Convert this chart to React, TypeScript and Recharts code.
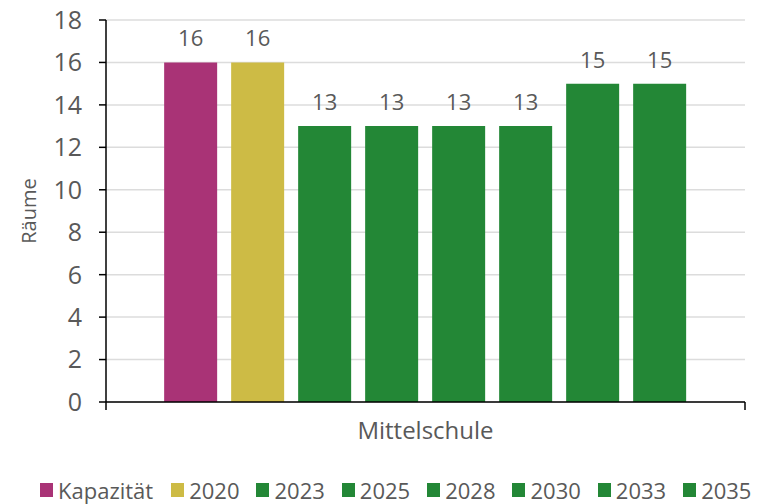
import React from "react";
import { Bar, BarChart, CartesianGrid, LabelList, ReferenceLine, XAxis, YAxis } from "recharts";

const categories = ["Mittelschule"];
const seriesNames = ["Kapazität", "2020", "2023", "2025", "2028", "2030", "2033", "2035"];
const seriesValues = [16, 16, 13, 13, 13, 13, 15, 15];
const seriesColors = ["#A93376", "#CDBB45", "#238736", "#238736", "#238736", "#238736", "#238736", "#238736"];
const yTicks = [0, 2, 4, 6, 8, 10, 12, 14, 16, 18];

const FONT = "'Open Sans', 'Noto Sans', sans-serif";
const TEXT = "#595959";

const data = categories.map((name) => {
  const row: Record<string, string | number> = { name };
  seriesNames.forEach((s, i) => {
    row[s] = seriesValues[i];
  });
  return row;
});

export default function App() {
  return (
    <div style={{ position: "absolute", left: 0, top: 0, width: 764, height: 504, background: "#fff", fontFamily: FONT }}>
      <BarChart
        width={764}
        height={504}
        data={data}
        margin={{ top: 20, right: 19, left: 0, bottom: 52 }}
        barCategoryGap="9.1%"
        barGap={14}
      >
        <CartesianGrid vertical={false} stroke="#dcdcdc" strokeWidth={1.5} />
        <XAxis
          dataKey="name"
          height={50}
          axisLine={{ stroke: "#000", strokeWidth: 1.5 }}
          tickLine={false}
          tickSize={8}
          tickMargin={12}
          tick={{ fill: TEXT, fontSize: 24, fontFamily: FONT }}
        />
        <YAxis
          width={106}
          domain={[0, 18]}
          ticks={yTicks}
          interval={0}
          tick={{ fill: TEXT, fontSize: 25, fontFamily: FONT }}
          axisLine={{ stroke: "#000", strokeWidth: 1.5 }}
          tickLine={{ stroke: "#000", strokeWidth: 1.5 }}
          tickSize={7}
          tickMargin={17}
          label={{
            value: "Räume",
            angle: -90,
            position: "insideLeft",
            offset: 29,
            fill: TEXT,
            fontSize: 20,
            fontFamily: FONT,
            style: { textAnchor: "middle" },
          }}
        />
        {seriesNames.map((s, i) => (
          <Bar key={s} dataKey={s} fill={seriesColors[i]} isAnimationActive={false}>
            <LabelList dataKey={s} position="top" offset={16} fill={TEXT} fontSize={22} fontFamily={FONT} />
          </Bar>
        ))}
        {/* end ticks of the category axis at the band edges */}
        {(["start", "end"] as const).map((p) => (
          <ReferenceLine
            key={p}
            position={p}
            segment={[
              { x: categories[0], y: 0 },
              { x: categories[0], y: -0.38 },
            ]}
            ifOverflow="visible"
            stroke="#000"
            strokeWidth={1.5}
          />
        ))}
      </BarChart>
      <div
        style={{
          position: "absolute",
          left: 40,
          top: 478,
          display: "flex",
          alignItems: "center",
          fontSize: 22,
          lineHeight: "24px",
          color: TEXT,
          whiteSpace: "nowrap",
        }}
      >
        {seriesNames.map((s, i) => (
          <div key={s} style={{ display: "flex", alignItems: "center", marginRight: i === 0 ? 18 : 17 }}>
            <span style={{ width: 13, height: 14, background: seriesColors[i], marginRight: 5, display: "inline-block" }} />
            <span>{s}</span>
          </div>
        ))}
      </div>
    </div>
  );
}
